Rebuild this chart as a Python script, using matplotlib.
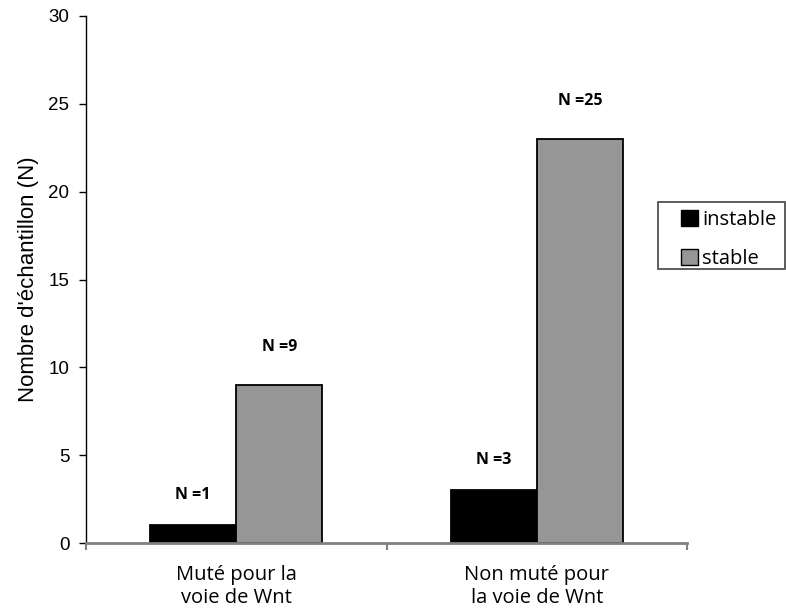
import matplotlib
matplotlib.use("Agg")
import matplotlib.pyplot as plt
import numpy as np
from matplotlib.patches import Patch, Rectangle

categories = ["Muté pour la\nvoie de Wnt", "Non muté pour\nla voie de Wnt"]
series_names = ["instable", "stable"]
instable = [1, 3]
stable = [9, 23]
labels_instable = ["N =1", "N =3"]
labels_stable = ["N =9", "N =25"]
yticks = [0, 5, 10, 15, 20, 25, 30]

W, H = 786, 610
fig = plt.figure(figsize=(W/100, H/100), dpi=100)
ax = fig.add_axes([86/W, 67/H, (687-86)/W, (543-16)/H])

x = np.arange(len(categories))
w = 0.287
b1 = ax.bar(x - w/2, instable, w, color="black", edgecolor="black", linewidth=1.3, label=series_names[0])
b2 = ax.bar(x + w/2, stable, w, color="#969696", edgecolor="black", linewidth=1.3, label=series_names[1])

for rect, lab in zip(b1, labels_instable):
    ax.annotate(lab, (rect.get_x() + rect.get_width()/2, rect.get_height()),
                xytext=(0, 22), textcoords="offset points", ha="center", va="center",
                fontsize=11.5, fontweight="bold", family="Open Sans")
for rect, lab in zip(b2, labels_stable):
    ax.annotate(lab, (rect.get_x() + rect.get_width()/2, rect.get_height()),
                xytext=(0, 27), textcoords="offset points", ha="center", va="center",
                fontsize=11.5, fontweight="bold", family="Open Sans")

ax.set_xlim(-0.5, 1.5)
ax.set_ylim(0, 30)
ax.set_yticks(yticks)
ax.set_yticklabels([str(t) for t in yticks], fontsize=13.5, family="Liberation Sans")
ax.set_xticks(x)
ax.set_xticklabels(categories, fontsize=14.5, family="Open Sans", linespacing=1.2)
ax.tick_params(axis="x", which="major", length=0, pad=16)
ax.set_xticks([-0.5, 0.5, 1.5], minor=True)
ax.tick_params(axis="x", which="minor", length=5, color="#808080", width=1.5, direction="out")
ax.tick_params(axis="y", length=5, direction="out", width=1, pad=7)

for s in ["top", "right"]:
    ax.spines[s].set_visible(False)
ax.spines["bottom"].set_color("#808080")
ax.spines["bottom"].set_linewidth(2)
ax.spines["left"].set_color("black")
ax.spines["left"].set_linewidth(1)

ax.set_ylabel("Nombre d'échantillon (N)", fontsize=16, family="Liberation Sans", labelpad=7)

# legend frame (Excel-style, wide left padding)
fx0, fy0, fx1, fy1 = 658, 202, 785, 269
fig.patches.append(Rectangle((fx0/W, 1 - fy1/H), (fx1-fx0)/W, (fy1-fy0)/H,
                             transform=fig.transFigure, facecolor="white",
                             edgecolor="#505050", linewidth=1.3, zorder=5))
handles = [Patch(facecolor="black", edgecolor="black"), Patch(facecolor="#969696", edgecolor="black")]
leg = fig.legend(handles, series_names, loc="upper left", bbox_to_anchor=(677/W, 1 - 206/H),
                 frameon=False, prop={"family": "Open Sans", "size": 14.5},
                 handlelength=0.85, handleheight=0.85, handletextpad=0.2, borderpad=0.2,
                 labelspacing=0.95, borderaxespad=0)
leg.set_zorder(6)

fig.savefig("out.png", dpi=100)
